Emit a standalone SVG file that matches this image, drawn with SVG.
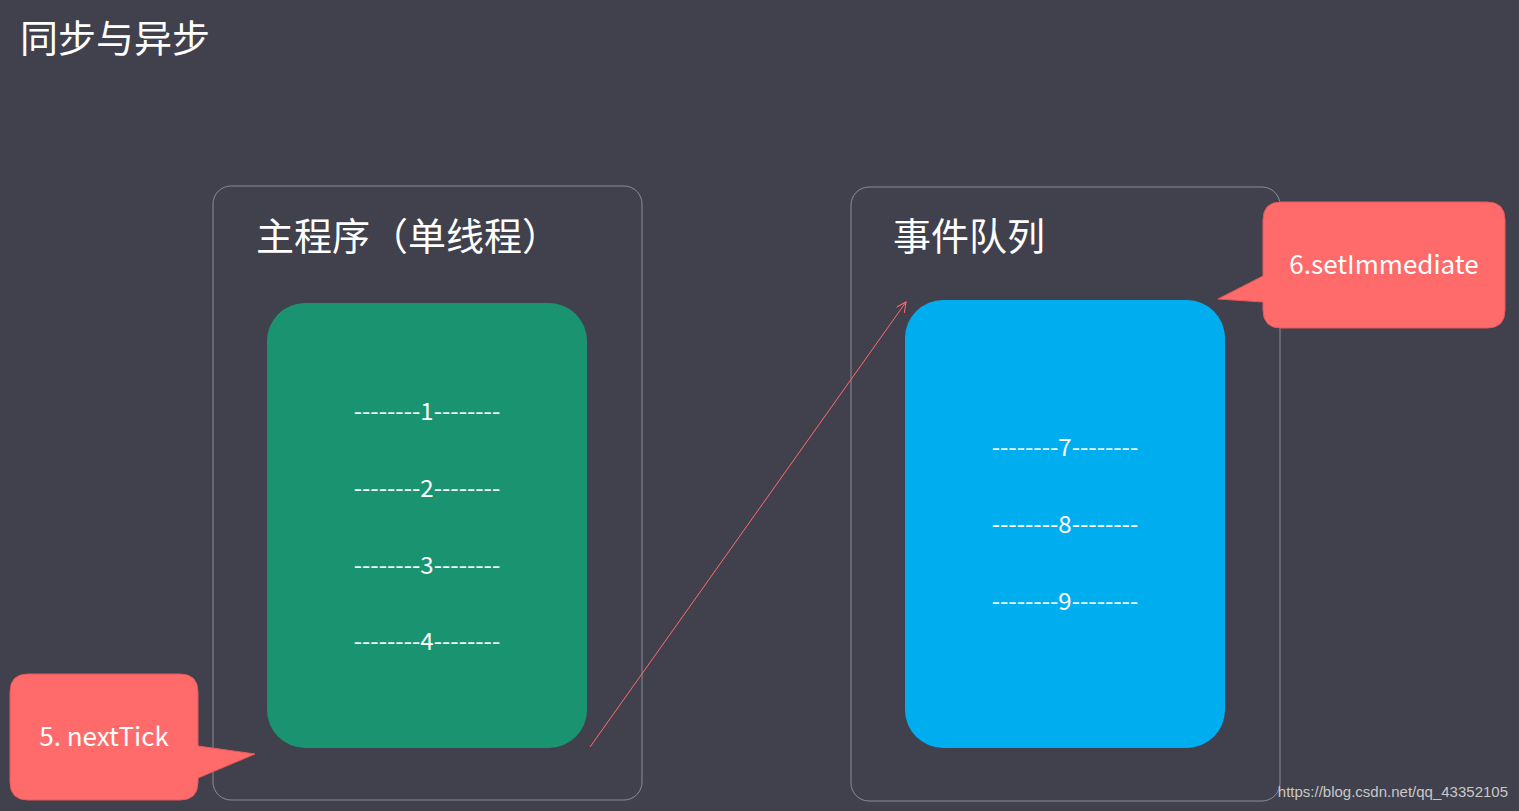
<svg xmlns="http://www.w3.org/2000/svg" width="1519" height="811" viewBox="0 0 1519 811">
<style>
text{font-family:"Noto Sans CJK SC","Noto Sans",sans-serif;fill:#fff}
.frame{fill:none;stroke:#8a8c96;stroke-width:1}
.item{font-size:24px;text-anchor:middle}
.call{fill:#ff6b6b;stroke:#e85a5a;stroke-width:1}
</style>
<defs><marker id="ah" markerWidth="12" markerHeight="12" refX="10" refY="5" orient="auto" markerUnits="userSpaceOnUse"><path d="M0,0 L10,5 L0,10" fill="none" stroke="#ff6b6b" stroke-width="1"/></marker></defs>
<rect width="1519" height="811" fill="#40414d"/>
<text x="20" y="52" font-size="38">同步与异步</text>
<g id="main">
<rect class="frame" x="213" y="186" width="429" height="614" rx="18"/>
<text x="256" y="250" font-size="38">主程序（单线程）</text>
<rect x="267" y="303" width="320" height="445" rx="38" fill="#1a9470"/>
<text class="item" x="427" y="420">--------1--------</text>
<text class="item" x="427" y="497">--------2--------</text>
<text class="item" x="427" y="574">--------3--------</text>
<text class="item" x="427" y="650">--------4--------</text>
</g>
<g id="queue">
<rect class="frame" x="851" y="187" width="429" height="614" rx="18"/>
<text x="893" y="250" font-size="38">事件队列</text>
<rect x="905" y="300" width="320" height="448" rx="38" fill="#00adef"/>
<text class="item" x="1065" y="456">--------7--------</text>
<text class="item" x="1065" y="533">--------8--------</text>
<text class="item" x="1065" y="610">--------9--------</text>
</g>
<g id="connectors">
<line x1="590" y1="747" x2="906" y2="302" stroke="#ff6b6b" stroke-width="1" marker-end="url(#ah)"/>
</g>
<g id="nextTick">
<path class="call" d="M28,674 H180 Q198,674 198,692 V746 L255,754 L198,778 V782 Q198,800 180,800 H28 Q10,800 10,782 V692 Q10,674 28,674 Z"/>
<text x="104" y="746" font-size="26" text-anchor="middle">5. nextTick</text>
</g>
<g id="setImmediate">
<path class="call" d="M1281,202 H1487 Q1505,202 1505,220 V310 Q1505,328 1487,328 H1281 Q1263,328 1263,310 V302 L1218,299 L1263,276 V220 Q1263,202 1281,202 Z"/>
<text x="1384" y="274" font-size="26" text-anchor="middle">6.setImmediate</text>
</g>
<text x="1508" y="797" font-size="15" text-anchor="end" fill="#c8c8c8" style="font-family:'Liberation Sans',sans-serif;fill:#c8c8c8">https://blog.csdn.net/qq_43352105</text>
</svg>
